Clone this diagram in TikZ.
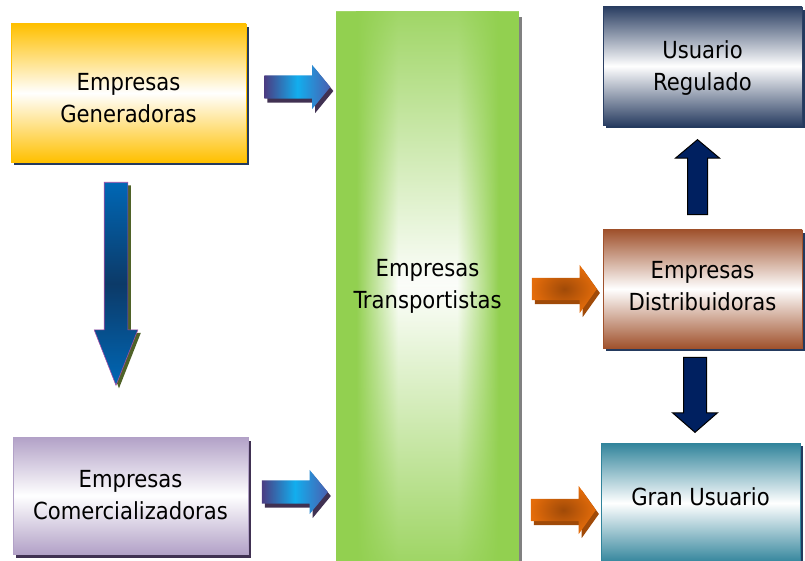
\documentclass[tikz,border=0pt]{standalone}
\usepackage{fontspec}
\setmainfont{DejaVu Sans Condensed}
\usetikzlibrary{shapes.arrows,shadows,calc,fadings}
\definecolor{genorange}{HTML}{FFC000}
\definecolor{transgreen}{HTML}{92D050}
\definecolor{regnavy}{HTML}{2B3F63}
\definecolor{disbrown}{HTML}{A0522D}
\definecolor{granteal}{HTML}{31849B}
\definecolor{comlilac}{HTML}{B2A1C7}
\definecolor{shadownavy}{HTML}{243A5E}
\definecolor{shadowplum}{HTML}{403152}
\definecolor{arrowpurple}{HTML}{4B3C82}
\definecolor{arrowcyan}{HTML}{12AEEE}
\definecolor{arrowblue}{HTML}{4A5FB0}
\definecolor{arroworange}{HTML}{E46C0A}
\definecolor{arrowrust}{HTML}{A04A08}
\definecolor{downblue}{HTML}{0067B5}
\definecolor{downdark}{HTML}{0C3A68}
\definecolor{downolive}{HTML}{4F6228}
\definecolor{darknavy}{HTML}{002060}
\tikzfading[name=fadedown, top color=transparent!0, bottom color=transparent!100]
\tikzfading[name=fadeup, top color=transparent!100, bottom color=transparent!0]
\tikzstyle{box} = [rectangle, align=center, inner sep=0pt, line width=0.8pt, font=\fontsize{23.5}{32}\selectfont]
\tikzstyle{leftbox} = [box, minimum width=235pt]
\tikzstyle{rightbox} = [box, minimum width=199pt, minimum height=118pt, drop shadow={shadow xshift=3pt, shadow yshift=-3pt, fill=shadownavy, opacity=1}]
\tikzstyle{arr} = [single arrow, inner sep=0pt, text width=0pt, minimum height=66pt]
\tikzstyle{bluearrow} = [arr, anchor=tip, text height=11.5pt, text depth=11.5pt, minimum width=44pt, single arrow head extend=10.5pt, single arrow tip angle=101, left color=arrowpurple, right color=arrowblue, middle color=arrowcyan, drop shadow={shadow xshift=3pt, shadow yshift=-4pt, fill=shadowplum, opacity=1}]
\tikzstyle{orangearrow} = [arr, anchor=tip, text height=11pt, text depth=11pt, minimum width=48pt, minimum height=65pt, single arrow head extend=13pt, single arrow tip angle=109, shading=radial, inner color=arrowrust, outer color=arroworange, drop shadow={shadow xshift=3pt, shadow yshift=-4pt, fill=arrowrust, opacity=1}]
\tikzstyle{navyarrow} = [arr, anchor=tip, minimum height=75pt, single arrow tip angle=100, text height=0pt, text depth=0pt, fill=darknavy, draw=black, line width=1pt]

\begin{document}
\begin{tikzpicture}[x=1pt,y=-1pt]
        \useasboundingbox (0,0) rectangle (805,561);
        \node[leftbox, minimum height=138pt, text height=59pt, text depth=0pt, draw=genorange, top color=genorange, bottom color=genorange, middle color=white, drop shadow={shadow xshift=3pt, shadow yshift=-3pt, fill=shadownavy, opacity=1}] at (128.5,93) (gen) {Empresas\\Generadoras};
        \node[leftbox, minimum height=117pt, draw=comlilac, top color=comlilac, bottom color=comlilac, middle color=white, drop shadow={shadow xshift=3pt, shadow yshift=-4pt, fill=shadowplum, opacity=1}] at (130.5,495.5) (com) {Empresas\\Comercializadoras};

        % fondo verde
        \fill[gray] (339,17) rectangle (522,561);
        \fill[transgreen] (336,12) rectangle (519,561);
        \shade[left color=transgreen, right color=white] (356,12) rectangle (398,561);
        \fill[white] (398,12) rectangle (457,561);
        \shade[left color=white, right color=transgreen] (457,12) rectangle (499,561);
        \begin{scope}
            \clip (336,12) rectangle (519,561);
            \fill[transgreen, path fading=fadedown] (336,-30) rectangle (519,290);
            \fill[transgreen, path fading=fadeup] (336,280) rectangle (519,600);
        \end{scope}
        \node[box, minimum width=183pt, minimum height=549pt] at (427.5,286.5) (trans) {Empresas\\Transportistas};

        \node[rightbox, text depth=0pt, draw=regnavy, top color=regnavy, bottom color=regnavy, middle color=white] at (702.5,66) (reg) {Usuario\\Regulado};
        \node[rightbox, text depth=6pt, draw=disbrown, top color=disbrown, bottom color=disbrown, middle color=white] at (702.5,289) (dis) {Empresas\\Distribuidoras};
        \node[rightbox, minimum height=120pt, text height=17pt, text depth=12pt, draw=granteal, top color=granteal, bottom color=granteal, middle color=white] at (700.5,503) (gran) {Gran Usuario};

        % flechas
        \node[bluearrow] at ($(gen.east -| trans.west)+(-5,-6)$) (gentrans) {};
        \node[bluearrow] at ($(com.east -| trans.west)+(-7.5,-3.5)$) (comtrans) {};
        \node[orangearrow] at ($(dis.west)+(-5.5,0)$) (transdis) {};
        \node[orangearrow] at ($(gran.west)+(-4.5,7)$) (transgran) {};
        \node[arr, anchor=tip, shape border rotate=270, text width=23pt, text height=0pt, text depth=0pt, minimum width=43pt, minimum height=203pt, single arrow head extend=10pt, single arrow tip angle=43, draw=violet!70, line width=0.6pt, top color=downblue, bottom color=downblue, middle color=downdark, drop shadow={shadow xshift=3pt, shadow yshift=-3pt, fill=downolive, opacity=1}] at ($(com.north)+(-14.5,-50.5)$) (gencom) {};
        \node[navyarrow, shape border rotate=90, text width=19pt, minimum width=43pt, single arrow head extend=12pt] at ($(reg.south)+(-5,13.6)$) (disreg) {};
        \node[navyarrow, shape border rotate=270, text width=22pt, minimum width=44pt, single arrow head extend=11pt, single arrow tip angle=98] at ($(gran.north)+(-5.5,-9.6)$) (disgran) {};

    \end{tikzpicture}
\end{document}
